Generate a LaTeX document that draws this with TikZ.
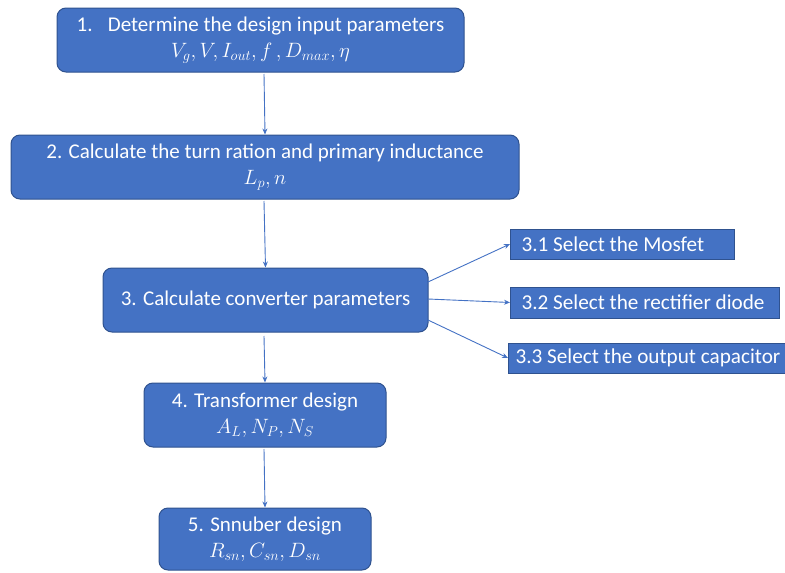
\documentclass[tikz,border=0pt]{standalone}
\usepackage{fontspec}
\setmainfont{Carlito}
\usetikzlibrary{arrows.meta}
\definecolor{boxfill}{HTML}{4472C4}
\definecolor{boxline}{HTML}{2F528F}
\definecolor{arr}{HTML}{4472C4}
\newcommand{\mth}[1]{{\fontsize{20}{24}\selectfont$#1$}}
\begin{document}
\begin{tikzpicture}[x=1pt,y=-1pt,
  mainbox/.style={draw=boxline,line width=1pt,fill=boxfill,rounded corners=9pt,text=white,align=center,font=\fontsize{21}{25}\selectfont,inner sep=0pt},
  subbox/.style={draw=boxline,line width=1pt,fill=boxfill,text=white,anchor=west,font=\fontsize{21.2}{25}\selectfont,inner ysep=0pt},
  conn/.style={draw=arr,line width=0.9pt,-{Stealth[length=6pt,width=5pt]}}]
\useasboundingbox (0,0) rectangle (785,573);
% main boxes
\node[mainbox,minimum width=407pt,minimum height=64pt] (b1) at (260.5,40)
  {1.\enspace\ Determine the design input parameters\\[1pt]\mth{V_g, V, I_{out}, f\,, D_{max},\eta}};
\node[mainbox,minimum width=508pt,minimum height=64pt] (b2) at (265,167)
  {2. Calculate the turn ration and primary inductance\\[1pt]\mth{L_p, n}};
\node[mainbox,minimum width=325pt,minimum height=64pt] (b3) at (265.5,300)
  {3. Calculate converter parameters};
\node[mainbox,minimum width=242pt,minimum height=64pt] (b4) at (265,415)
  {4. Transformer design\\[1pt]\mth{A_L, N_P, N_S}};
\node[mainbox,minimum width=212pt,minimum height=62pt] (b5) at (265,539)
  {5. Snnuber design\\[1pt]\mth{R_{sn}, C_{sn}, D_{sn}}};
% sub boxes
\node[subbox,inner xsep=11pt,minimum height=30pt] (s1) at (510,244) {\makebox[202pt][l]{3.1 Select the Mosfet}};
\node[subbox,inner xsep=11pt,minimum height=31pt] (s2) at (510,302.5) {\makebox[247pt][l]{3.2 Select the rectifier diode}};
\node[subbox,inner xsep=7pt,minimum height=30pt] (s3) at (508,358) {\makebox[276pt][l]{3.3 Select the output capacitor}};
% connectors
\coordinate (a1) at (264,74);
\coordinate (a2) at (264,201);
\coordinate (a3) at (264,336);
\coordinate (a4) at (264,449);
\draw[conn] (a1) -- (b2.north);
\draw[conn] (a2) -- (b3.north);
\draw[conn] (a3) -- (b4.north);
\draw[conn] (a4) -- (b5.north);
\coordinate (c1) at (428,282);
\coordinate (c2) at (428,299);
\coordinate (c3) at (428,320);
\draw[conn] (c1) -- (s1.west);
\draw[conn] (c2) -- (s2.west);
\draw[conn] (c3) -- (s3.west);
\end{tikzpicture}
\end{document}
